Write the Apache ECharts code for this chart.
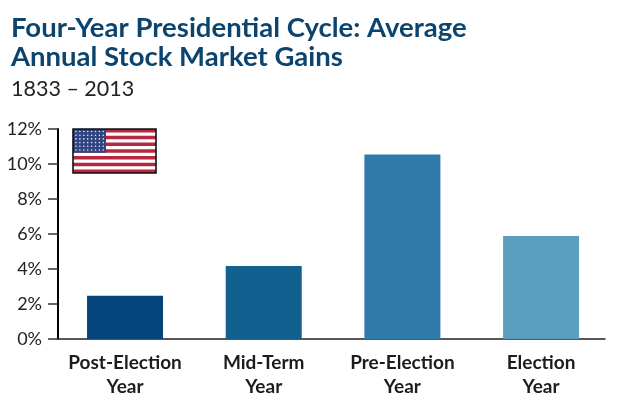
<!DOCTYPE html>
<html>
<head>
<meta charset="utf-8">
<style>html,body{margin:0;padding:0;background:#fff}#main{width:618px;height:410px}</style>
<script src="https://cdn.jsdelivr.net/npm/echarts@6/dist/echarts.min.js"></script>
</head>
<body>
<div id="main"></div>
<script>
const categories = ['Post-Election\nYear', 'Mid-Term\nYear', 'Pre-Election\nYear', 'Election\nYear'];
const gains = [2.47, 4.17, 10.54, 5.89];
const barColors = ['#03457c', '#11608f', '#2e7aa8', '#5a9ec0'];
const yTicks = [0, 2, 4, 6, 8, 10, 12];

// flag is only decoration, drawn with plain shapes
function flag() {
  const x = 73, y = 129, w = 83, h = 44;
  const items = [{type: 'rect', shape: {x: x, y: y, width: w, height: h}, style: {fill: '#fff'}}];
  for (let i = 0; i < 13; i += 2) {
    items.push({type: 'rect', shape: {x: x, y: y + i * h / 13, width: w, height: h / 13}, style: {fill: '#b5283f'}});
  }
  items.push({type: 'rect', shape: {x: x, y: y, width: 33, height: 7 * h / 13}, style: {fill: '#2f4480'}});
  for (let r = 0; r < 6; r++) {
    for (let c = 0; c < 8; c++) {
      items.push({type: 'circle', shape: {cx: x + 3 + c * 3.9, cy: y + 2.5 + r * 3.7, r: 0.8}, style: {fill: '#e4e8f2'}});
    }
  }
  items.push({type: 'rect', shape: {x: x, y: y, width: w, height: h}, style: {fill: 'none', stroke: '#111', lineWidth: 1.6}});
  return items;
}

const chart = echarts.init(document.getElementById('main'), null, {renderer: 'canvas'});
chart.setOption({
  animation: false,
  textStyle: {fontFamily: 'Lato'},
  title: [{
    text: 'Four-Year Presidential Cycle: Average\nAnnual Stock Market Gains',
    left: 11, top: 14, padding: 0,
    textStyle: {fontFamily: 'Lato', fontSize: 27.5, fontWeight: 'bold', color: '#0c4470', lineHeight: 29}
  }, {
    text: '1833 – 2013',
    left: 11, top: 75, padding: 0,
    textStyle: {fontFamily: 'Lato', fontSize: 21.5, fontWeight: 'normal', color: '#222', lineHeight: 28}
  }],
  // first grid holds the bars, second one only draws the axis lines
  grid: [
    {left: 55.7, width: 554.7, top: 129, height: 210},
    {left: 58, width: 547, top: 129, height: 210}
  ],
  xAxis: [{
    type: 'category',
    gridIndex: 0,
    data: categories,
    axisLine: {show: false},
    axisTick: {show: false},
    axisLabel: {margin: 12, fontFamily: 'Lato', fontSize: 19, fontWeight: 'bold', color: '#1c1c1c', lineHeight: 24, interval: 0}
  }, {
    type: 'value',
    gridIndex: 1,
    min: 0, max: 1,
    axisLine: {show: true, lineStyle: {color: '#222', width: 1.5}},
    axisTick: {show: false},
    axisLabel: {show: false},
    splitLine: {show: false}
  }],
  yAxis: [{
    type: 'value',
    gridIndex: 0,
    min: 0, max: 12, interval: 2,
    show: false
  }, {
    type: 'value',
    gridIndex: 1,
    min: yTicks[0], max: yTicks[yTicks.length - 1], interval: 2,
    axisLine: {show: true, lineStyle: {color: '#000', width: 2}},
    axisTick: {show: true, length: 10, lineStyle: {color: '#333', width: 1.5}},
    axisLabel: {margin: 16, fontFamily: 'Lato', fontSize: 18, color: '#222', formatter: '{value}%'},
    splitLine: {show: false}
  }],
  series: [{
    type: 'bar',
    xAxisIndex: 0,
    yAxisIndex: 0,
    barWidth: 76,
    data: gains.map((v, i) => ({value: v, itemStyle: {color: barColors[i]}}))
  }],
  graphic: flag()
});
</script>
</body>
</html>
